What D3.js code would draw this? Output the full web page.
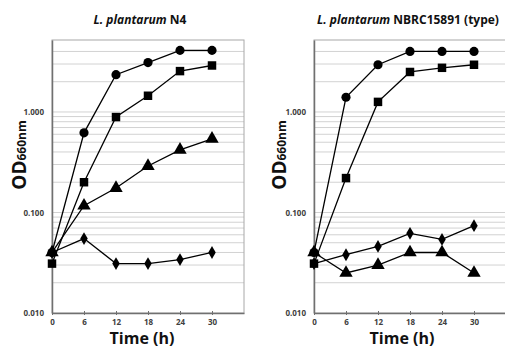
<!DOCTYPE html>
<html>
<head>
<meta charset="utf-8">
<script src="https://cdn.jsdelivr.net/npm/d3@7"></script>
<style>
  body { margin: 0; background: #fff; }
  text { font-family: "Open Sans", "Noto Sans", sans-serif; }
</style>
</head>
<body>
<svg id="chart" width="505" height="347"></svg>
<script>
// sampling times (h)
const hours = [0, 6, 12, 18, 24, 30];
const xTicks = [0, 6, 12, 18, 24, 30];
const yTicks = [0.01, 0.1, 1];

// L. plantarum N4
const n4Circle   = [0.040, 0.62, 2.35, 3.1, 4.1, 4.1];
const n4Square   = [0.031, 0.20, 0.89, 1.45, 2.55, 2.9];
const n4Triangle = [0.040, 0.117, 0.175, 0.29, 0.42, 0.54];
const n4Diamond  = [0.040, 0.055, 0.031, 0.031, 0.034, 0.040];

// L. plantarum NBRC15891 (type)
const tyCircle   = [0.040, 1.4, 2.95, 4.0, 4.0, 4.0];
const tySquare   = [0.031, 0.22, 1.26, 2.5, 2.75, 2.95];
const tyTriangle = [0.040, 0.025, 0.030, 0.040, 0.040, 0.025];
const tyDiamond  = [0.031, 0.038, 0.046, 0.062, 0.054, 0.074];

const svg = d3.select('#chart');

function drawPanel(opts) {
    const { left, title, titleX, series } = opts;
    const top = 40, bottom = 313, width = 192;

    const x = d3.scaleLinear().domain([0, 36]).range([left, left + width]);
    const y = d3.scaleLog().domain([0.01, 5.2]).range([bottom, top]);

    const g = svg.append('g');

    // minor gridlines 2..9 of every decade
    const grid = [];
    [0.01, 0.1, 1].forEach(dec => {
        for (let k = 1; k <= 9; k++) {
            const v = dec * k;
            if (v > 0.01 && v < 5) grid.push(v);
        }
    });
    g.selectAll('.grid')
        .data(grid)
        .enter()
        .append('line')
        .attr('x1', left)
        .attr('x2', left + width)
        .attr('y1', d => y(d))
        .attr('y2', d => y(d))
        .attr('stroke', '#d2d2d2')
        .attr('stroke-width', 1);

    // plot border
    g.append('rect')
        .attr('x', left)
        .attr('y', top)
        .attr('width', width)
        .attr('height', bottom - top)
        .attr('fill', 'none')
        .attr('stroke', '#a8a8a8')
        .attr('stroke-width', 1);

    // axes
    const xAxis = d3.axisBottom(x).tickValues(xTicks).tickSize(0).tickPadding(6);
    const yAxis = d3.axisLeft(y).tickValues(yTicks).tickSize(0).tickPadding(8)
        .tickFormat(d3.format('.3f'));

    const gx = g.append('g')
        .attr('transform', `translate(0,${bottom})`)
        .call(xAxis);
    const gy = g.append('g')
        .attr('transform', `translate(${left},0)`)
        .call(yAxis);

    // small ticks crossing the time axis
    gx.selectAll('.tick line')
        .attr('y1', -2)
        .attr('y2', 2)
        .attr('stroke', '#707070');

    [gx, gy].forEach(a => {
        a.select('.domain').attr('stroke', '#707070').attr('stroke-width', 1.5);
        a.selectAll('text')
            .attr('fill', '#404040')
            .style('font-size', '8px')
            .style('font-weight', 'bold');
    });

    // lines and markers
    const line = d3.line()
        .x((d, i) => x(hours[i]))
        .y(d => y(d));

    series.forEach(s => {
        g.append('path')
            .datum(s.values)
            .attr('d', line)
            .attr('fill', 'none')
            .attr('stroke', '#000')
            .attr('stroke-width', 1.3);
    });

    const shapes = {
        circle: d3.symbol().type(d3.symbolCircle).size(66),
        square: d3.symbol().type(d3.symbolSquare).size(72),
        triangle: d3.symbol().type(d3.symbolTriangle).size(78),
        diamond: d3.symbol().type(d3.symbolDiamond).size(48)
    };

    series.forEach(s => {
        g.selectAll(null)
            .data(s.values)
            .enter()
            .append('path')
            .attr('d', shapes[s.shape])
            .attr('transform', (d, i) => `translate(${x(hours[i])},${y(d)})`)
            .attr('fill', '#000');
    });

    // title
    const t = svg.append('text')
        .attr('x', titleX)
        .attr('y', 24)
        .attr('text-anchor', 'middle')
        .style('font-size', '12px')
        .style('font-weight', 'bold')
        .attr('fill', '#111');
    t.append('tspan').style('font-style', 'italic').text('L. plantarum');
    t.append('tspan').text(' ' + title);

    // y label
    const yl = svg.append('text')
        .attr('transform', `translate(${opts.yLabelX},${opts.yLabelY}) rotate(-90)`)
        .attr('text-anchor', 'middle')
        .attr('fill', '#111')
        .style('font-weight', 'bold');
    yl.append('tspan').style('font-size', '19px').text('OD');
    yl.append('tspan').style('font-size', '12px').text('660nm');

    // x label
    svg.append('text')
        .attr('x', opts.xLabelX)
        .attr('y', 344)
        .attr('text-anchor', 'middle')
        .attr('fill', '#111')
        .style('font-size', '16px')
        .style('font-weight', 'bold')
        .text('Time (h)');
}

drawPanel({
    left: 52,
    title: 'N4',
    titleX: 140,
    yLabelX: 26,
    yLabelY: 155,
    xLabelX: 142,
    series: [
        { shape: 'circle', values: n4Circle },
        { shape: 'square', values: n4Square },
        { shape: 'triangle', values: n4Triangle },
        { shape: 'diamond', values: n4Diamond }
    ]
});

drawPanel({
    left: 314,
    title: 'NBRC15891 (type)',
    titleX: 408,
    yLabelX: 286,
    yLabelY: 155,
    xLabelX: 402,
    series: [
        { shape: 'circle', values: tyCircle },
        { shape: 'square', values: tySquare },
        { shape: 'triangle', values: tyTriangle },
        { shape: 'diamond', values: tyDiamond }
    ]
});
</script>
</body>
</html>
